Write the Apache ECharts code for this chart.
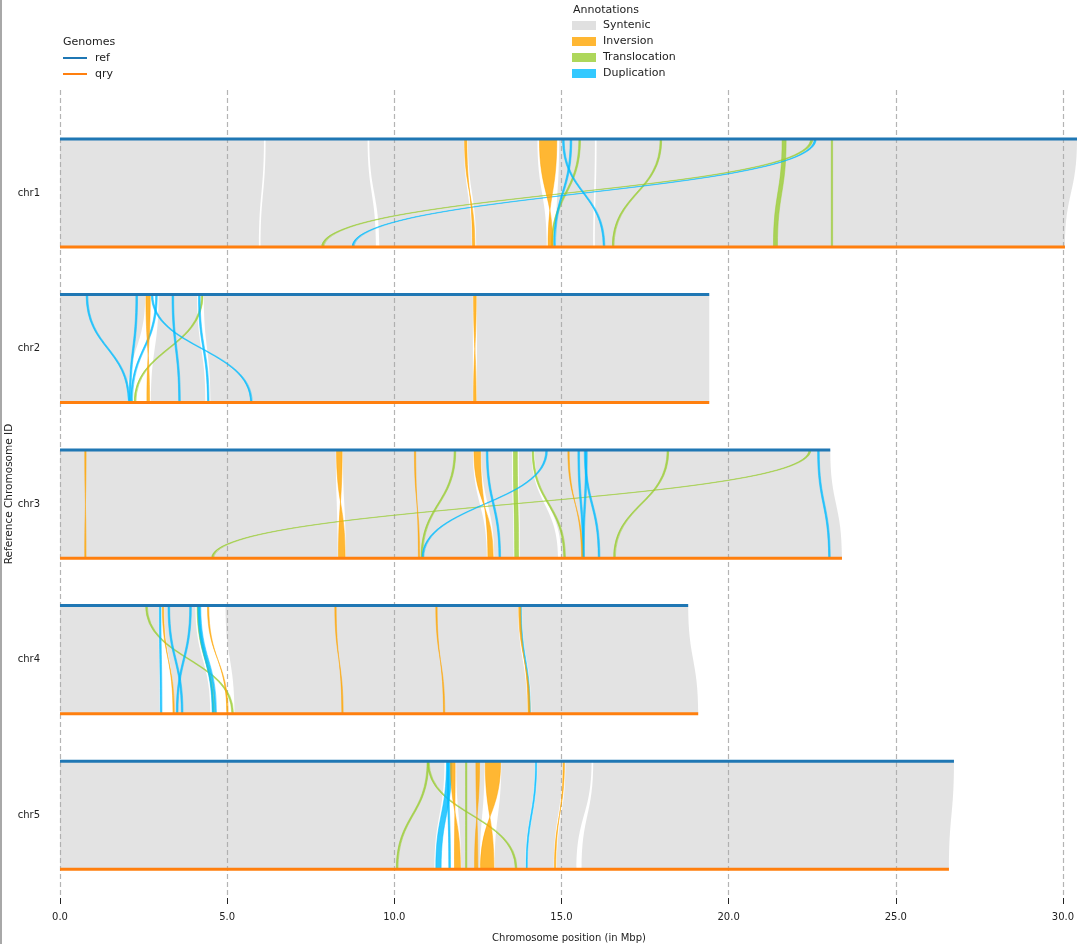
<!DOCTYPE html>
<html>
<head>
<meta charset="utf-8">
<script src="https://cdn.jsdelivr.net/npm/echarts@6/dist/echarts.min.js"></script>
<style>
html,body{margin:0;padding:0;background:#fff;}
#chart{width:1080px;height:944px;}
</style>
</head>
<body>
<div id="chart"></div>
<script>
// ---------- data ----------
const chromosomes = ['chr1', 'chr2', 'chr3', 'chr4', 'chr5'];
const refLengths = [30.42, 19.42, 23.04, 18.79, 26.74];
const qryLengths = [30.06, 19.42, 23.39, 19.09, 26.59];
const xTicks = [0, 5, 10, 15, 20, 25, 30];
const xTitle = 'Chromosome position (in Mbp)';
const yTitle = 'Reference Chromosome ID';

// [chrIndex, refStart, refEnd, qryStart, qryEnd]  (Mbp)
const syntenic = [
  [0, 0.00, 6.10, 0.00, 5.95],
  [0, 6.15, 9.20, 6.00, 9.45],
  [0, 9.25, 12.08, 9.55, 12.32],
  [0, 12.20, 14.28, 12.45, 14.56],
  [0, 14.93, 16.00, 14.83, 15.95],
  [0, 16.05, 30.42, 16.00, 30.06],
  [1, 0.00, 2.55, 0.00, 2.02],
  [1, 2.95, 4.10, 2.72, 4.35],
  [1, 4.30, 12.35, 4.50, 12.35],
  [1, 12.47, 19.42, 12.47, 19.42],
  [2, 0.00, 8.25, 0.00, 8.31],
  [2, 8.46, 12.35, 8.55, 12.77],
  [2, 12.60, 13.52, 12.99, 13.57],
  [2, 13.72, 14.10, 13.76, 14.90],
  [2, 14.20, 23.04, 15.00, 23.39],
  [3, 0.00, 2.95, 0.00, 2.98],
  [3, 3.12, 4.05, 3.42, 4.50],
  [3, 4.95, 13.70, 5.22, 13.98],
  [3, 13.82, 18.79, 14.10, 19.09],
  [4, 0.00, 11.50, 0.00, 11.20],
  [4, 11.85, 12.70, 12.00, 12.56],
  [4, 13.20, 14.20, 13.00, 13.92],
  [4, 14.28, 15.03, 14.00, 14.77],
  [4, 15.12, 15.90, 14.86, 15.45],
  [4, 15.95, 26.74, 15.60, 26.59]
];
const inversions = [
  [0, 12.10, 12.17, 12.34, 12.41],
  [0, 14.34, 14.86, 14.60, 14.74],
  [1, 2.57, 2.70, 2.60, 2.68],
  [1, 12.37, 12.45, 12.37, 12.45],
  [2, 0.74, 0.78, 0.74, 0.78],
  [2, 8.27, 8.44, 8.33, 8.53],
  [2, 10.60, 10.64, 10.72, 10.76],
  [2, 12.38, 12.58, 12.80, 12.96],
  [2, 15.19, 15.23, 15.60, 15.64],
  [3, 3.06, 3.10, 3.38, 3.42],
  [3, 4.41, 4.45, 4.99, 5.03],
  [3, 8.22, 8.26, 8.43, 8.47],
  [3, 11.24, 11.28, 11.47, 11.51],
  [3, 13.72, 13.78, 14.00, 14.06],
  [4, 11.68, 11.82, 11.80, 11.98],
  [4, 12.44, 12.55, 12.40, 12.50],
  [4, 12.72, 13.18, 12.58, 12.98],
  [4, 15.05, 15.09, 14.79, 14.83]
];
const translocations = [
  [0, 22.45, 22.52, 7.83, 7.90],
  [0, 15.52, 15.57, 14.70, 14.75],
  [0, 17.95, 18.00, 16.52, 16.57],
  [0, 21.60, 21.72, 21.34, 21.46],
  [0, 23.07, 23.11, 23.07, 23.11],
  [1, 4.23, 4.28, 2.22, 2.27],
  [2, 22.40, 22.46, 4.54, 4.60],
  [2, 11.79, 11.84, 10.80, 10.85],
  [2, 13.56, 13.68, 13.60, 13.72],
  [2, 14.12, 14.17, 15.07, 15.12],
  [2, 18.16, 18.21, 16.56, 16.61],
  [3, 2.56, 2.61, 5.14, 5.19],
  [3, 4.10, 4.15, 4.57, 4.62],
  [4, 10.98, 11.03, 10.06, 10.11],
  [4, 10.99, 11.04, 13.62, 13.67],
  [4, 12.13, 12.17, 12.13, 12.17]
];
const duplications = [
  [0, 22.56, 22.62, 8.74, 8.80],
  [0, 15.03, 15.08, 16.25, 16.30],
  [0, 15.26, 15.31, 14.77, 14.82],
  [1, 0.78, 0.83, 2.04, 2.09],
  [1, 2.27, 2.32, 2.07, 2.12],
  [1, 2.86, 2.91, 2.12, 2.17],
  [1, 2.73, 2.78, 5.70, 5.75],
  [1, 3.35, 3.40, 3.55, 3.60],
  [1, 4.14, 4.19, 4.41, 4.46],
  [2, 14.53, 14.58, 10.83, 10.88],
  [2, 12.75, 12.80, 13.13, 13.18],
  [2, 15.49, 15.54, 15.63, 15.68],
  [2, 15.68, 15.73, 16.10, 16.15],
  [2, 15.72, 15.77, 15.63, 15.68],
  [2, 22.66, 22.71, 22.99, 23.04],
  [3, 2.97, 3.02, 3.00, 3.05],
  [3, 3.23, 3.28, 3.63, 3.68],
  [3, 3.88, 3.93, 3.48, 3.53],
  [3, 4.12, 4.17, 4.55, 4.60],
  [3, 4.16, 4.21, 4.63, 4.68],
  [3, 13.76, 13.80, 14.03, 14.07],
  [4, 11.56, 11.72, 11.24, 11.40],
  [4, 11.58, 11.63, 11.63, 11.68],
  [4, 14.22, 14.26, 13.94, 13.98]
];

// ---------- styling ----------
const QRY_OFFSET = 0.695;
const LABEL_OFFSET = 0.347;
const FONT = 'DejaVu Sans';
const COLORS = {
  syn: 'rgba(169,169,169,0.32)',
  inv: 'rgba(255,165,0,0.8)',
  tra: 'rgba(154,205,50,0.8)',
  dup: 'rgba(0,187,255,0.8)',
  ref: '#1f77b4',
  qry: '#ff7f0e'
};
const LEGEND_COLORS = { syn: '#e0e0e0', inv: '#ffb733', tra: '#aed75b', dup: '#33c9ff' };

function ribbonRenderer(fill, stroke, inverted) {
  return function (params, api) {
    const k = api.value(0);
    const rs = api.value(1), re = api.value(2), qs = api.value(3), qe = api.value(4);
    const a = api.coord([rs, k]), b = api.coord([re, k]);
    const c = api.coord([qs, k + QRY_OFFSET]), d = api.coord([qe, k + QRY_OFFSET]);
    const ym = (a[1] + c[1]) / 2;
    let p;
    if (!inverted) {
      p = `M${a[0]} ${a[1]} L${b[0]} ${b[1]} C${b[0]} ${ym} ${d[0]} ${ym} ${d[0]} ${d[1]} L${c[0]} ${c[1]} C${c[0]} ${ym} ${a[0]} ${ym} ${a[0]} ${a[1]} Z`;
    } else {
      p = `M${a[0]} ${a[1]} L${b[0]} ${b[1]} C${b[0]} ${ym} ${c[0]} ${ym} ${c[0]} ${c[1]} L${d[0]} ${d[1]} C${d[0]} ${ym} ${a[0]} ${ym} ${a[0]} ${a[1]} Z`;
    }
    return {
      type: 'path',
      shape: { pathData: p },
      style: stroke ? { fill: fill, stroke: stroke, lineWidth: 0.6 } : { fill: fill }
    };
  };
}

function genomeRenderer(params, api) {
  const k = api.value(0);
  const r0 = api.coord([0, k]), r1 = api.coord([api.value(1), k]);
  const q0 = api.coord([0, k + QRY_OFFSET]), q1 = api.coord([api.value(2), k + QRY_OFFSET]);
  return {
    type: 'group',
    children: [
      { type: 'line', shape: { x1: r0[0], y1: r0[1], x2: r1[0], y2: r1[1] }, style: { stroke: COLORS.ref, lineWidth: 3 } },
      { type: 'line', shape: { x1: q0[0], y1: q0[1], x2: q1[0], y2: q1[1] }, style: { stroke: COLORS.qry, lineWidth: 3 } }
    ]
  };
}

const genomeData = chromosomes.map((c, i) => [i, refLengths[i], qryLengths[i]]);
const labelValues = chromosomes.map((c, i) => i + LABEL_OFFSET);

const textStyle = { fontFamily: FONT, fontSize: 11, fill: '#222' };
const annLegend = [
  ['Syntenic', LEGEND_COLORS.syn],
  ['Inversion', LEGEND_COLORS.inv],
  ['Translocation', LEGEND_COLORS.tra],
  ['Duplication', LEGEND_COLORS.dup]
];
const graphics = [
  { type: 'rect', left: 0, top: 0, shape: { width: 2, height: 944 }, style: { fill: '#a8a8a8' } },
  { type: 'text', x: 9, y: 494, rotation: Math.PI / 2,
    style: Object.assign({ text: yTitle, align: 'center', verticalAlign: 'middle' }, textStyle, { fontSize: 10.5 }) },
  { type: 'text', x: 63, y: 42, style: Object.assign({ text: 'Genomes', verticalAlign: 'middle' }, textStyle) },
  { type: 'line', shape: { x1: 63, y1: 58, x2: 87, y2: 58 }, style: { stroke: COLORS.ref, lineWidth: 2 } },
  { type: 'text', x: 95, y: 58, style: Object.assign({ text: 'ref', verticalAlign: 'middle' }, textStyle) },
  { type: 'line', shape: { x1: 63, y1: 74, x2: 87, y2: 74 }, style: { stroke: COLORS.qry, lineWidth: 2 } },
  { type: 'text', x: 95, y: 74, style: Object.assign({ text: 'qry', verticalAlign: 'middle' }, textStyle) },
  { type: 'text', x: 573, y: 10, style: Object.assign({ text: 'Annotations', verticalAlign: 'middle' }, textStyle) }
];
annLegend.forEach((it, i) => {
  const y = 25.5 + i * 16;
  graphics.push({ type: 'rect', shape: { x: 572, y: y - 4.5, width: 24, height: 9 }, style: { fill: it[1] } });
  graphics.push({ type: 'text', x: 603, y: y, style: Object.assign({ text: it[0], verticalAlign: 'middle' }, textStyle) });
});

const chart = echarts.init(document.getElementById('chart'), null, { renderer: 'canvas' });
chart.setOption({
  animation: false,
  backgroundColor: '#fff',
  textStyle: { fontFamily: FONT },
  grid: { left: 60, right: 2, top: 90, bottom: 46, containLabel: false, outerBoundsMode: 'none' },
  xAxis: {
    type: 'value', min: 0, max: 30.45, interval: 5, position: 'bottom',
    name: xTitle, nameLocation: 'middle', nameGap: 35,
    nameTextStyle: { fontFamily: FONT, fontSize: 10, color: '#222' },
    axisLine: { show: false, onZero: false },
    axisTick: { show: true, length: 6, lineStyle: { color: '#222', width: 1 } },
    axisLabel: {
      fontFamily: FONT, fontSize: 10, color: '#222', margin: 14, showMaxLabel: false,
      formatter: v => (xTicks.indexOf(v) >= 0 ? v.toFixed(1) : '')
    },
    splitLine: { show: true, showMaxLine: false, lineStyle: { color: '#b4b4b4', width: 1.2, type: [5, 3] } }
  },
  yAxis: {
    type: 'value', min: -0.315, max: 4.88, inverse: true,
    axisLine: { show: false, onZero: false },
    axisTick: { show: false },
    splitLine: { show: false },
    axisLabel: {
      customValues: labelValues,
      fontFamily: FONT, fontSize: 10, color: '#222', margin: 20,
      formatter: v => chromosomes[Math.round(v - LABEL_OFFSET)]
    }
  },
  graphic: graphics,
  series: [
    { name: 'Syntenic', type: 'custom', renderItem: ribbonRenderer(COLORS.syn, null, false), data: syntenic, encode: { x: [1, 2, 3, 4], y: 0 }, z: 1, silent: true },
    { name: 'Translocation', type: 'custom', renderItem: ribbonRenderer(COLORS.tra, COLORS.tra, false), data: translocations, encode: { x: [1, 2, 3, 4], y: 0 }, z: 3, silent: true },
    { name: 'Duplication', type: 'custom', renderItem: ribbonRenderer(COLORS.dup, COLORS.dup, false), data: duplications, encode: { x: [1, 2, 3, 4], y: 0 }, z: 3, silent: true },
    { name: 'Inversion', type: 'custom', renderItem: ribbonRenderer(COLORS.inv, COLORS.inv, true), data: inversions, encode: { x: [1, 2, 3, 4], y: 0 }, z: 3, silent: true },
    { name: 'Genomes', type: 'custom', renderItem: genomeRenderer, data: genomeData, encode: { x: [1, 2], y: 0 }, z: 5, silent: true }
  ]
});
</script>
</body>
</html>
